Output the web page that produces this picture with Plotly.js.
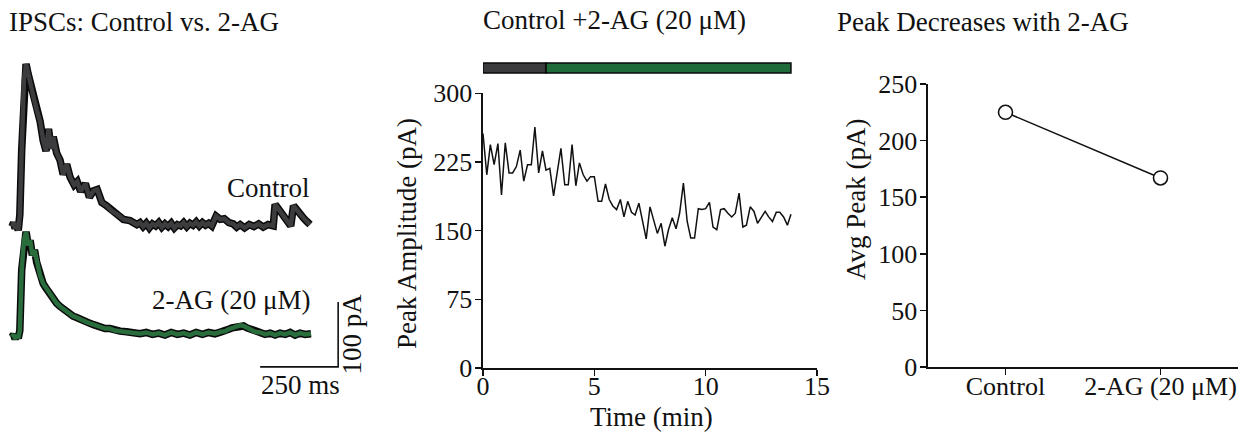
<!DOCTYPE html>
<html>
<head>
<meta charset="utf-8">
<script src="https://cdn.plot.ly/plotly-3.0.1.min.js"></script>
<style>html,body{margin:0;padding:0;background:#fff;}#chart{width:1245px;height:432px;}</style>
</head>
<body>
<div id="chart"></div>
<script>
// ---------- Panel A: example IPSC traces (time in ms, current in pA above baseline) ----------
const ctrlTime = [0,5,10,15,20,25,31,38,45,51,58,64,70,79,90,100,109,117,125,132,143,154,164,175,186,199,209,220,235,248,261,273,288,303,320,336,357,378,400,
  410,420,430,440,450,460,470,480,490,500,510,520,530,540,550,560,570,580,590,600,610,620,630,640,
  654,667,680,695,709,720,731,745,760,775,790,805,820,837,843,851,859,868,880,887,893,902,912,923,934,944,955];
const ctrlCurrent = [0,6,-3,5,-6,18,118,226,250,236,224,206,197,180,162,132,116,150,120,138,113,102,80,96,76,64,69,54,66,45,55,57,37,32,24,19,11,9,3,
  6,0,5,-2,4,1,6,-1,4,0,5,-2,3,1,6,0,5,2,7,1,6,2,5,1,
  16,11,12,6,4,-1,3,-2,3,0,4,-1,3,1,34,29,23,18,10,5,1,32,25,19,13,8,3];
const drugTime = [0,5,10,15,20,25,31,38,45,52,58,65,72,79,90,100,108,116,124,132,143,154,165,175,186,196,207,218,229,239,250,261,272,282,298,314,330,346,367,388,
  410,430,450,470,490,510,530,550,570,590,610,630,650,670,683,694,705,718,731,742,753,766,779,795,811,827,843,859,875,891,907,923,939,958];
const drugCurrent = [0,4,-3,3,-2,10,103,149,162,141,149,126,134,115,95,82,76,70,65,58,52,47,43,38,36,32,30,27,25,23,21,19,17,16,13,13,10,9,8,7,
  5,7,4,6,3,7,4,6,3,7,4,7,5,8,9,12,14,16,18,17,14,11,8,7,4,6,3,6,4,7,3,6,4,5];
const traceLabels = ["Control", "2-AG (20 μM)"];
const ctrlOffset = 170;          // vertical stacking of the control trace (pA)
const scaleBarMs = 250, scaleBarPA = 100;
const scaleBarEndMs = 1045, scaleBarBasePA = -46;

// ---------- Panel B: peak amplitude time course ----------
const timeMin = [0,0.17,0.33,0.5,0.67,0.83,1,1.17,1.33,1.5,1.67,1.83,2,2.17,2.33,2.5,2.67,2.83,3,3.17,3.33,3.5,3.67,3.83,4,4.17,4.33,4.5,4.67,4.83,
  5,5.17,5.33,5.5,5.67,5.83,6,6.17,6.33,6.5,6.67,6.83,7,7.17,7.33,7.5,7.67,7.83,8,8.17,8.33,8.5,8.67,8.83,9,9.17,9.33,9.5,9.67,9.83,
  10,10.17,10.33,10.5,10.67,10.83,11,11.17,11.33,11.5,11.67,11.83,12,12.17,12.33,12.5,12.67,12.83,13,13.17,13.33,13.5,13.67,13.83];
const peakPA = [256,211,244,222,245,189,246,213,213,220,238,204,222,222,263,213,237,216,218,188,213,240,200,200,244,199,224,211,204,209,
  209,182,182,201,184,177,173,184,165,182,170,167,180,158,141,176,162,147,158,133,151,164,152,169,202,160,142,142,174,173,
  174,181,154,151,173,174,169,165,169,191,154,156,176,171,158,165,171,165,160,170,170,165,156,168];
const periodStart = [0, 2.83];
const periodEnd = [2.83, 13.83];
const periodColor = ["#3b3b3d", "#1f6b3a"];
const bTicksX = [0,5,10,15];
const bTicksY = [0,75,150,225,300];

// ---------- Panel C: average peaks ----------
const conditions = ["Control", "2-AG (20 μM)"];
const avgPeak = [225, 167];
const cTicksY = [0,50,100,150,200,250];

// ---------- drawing ----------
const W = 1245, H = 432;
const px = v => v / W;
const py = v => 1 - v / H;
const FONT = "Liberation Serif, Times New Roman, serif";
const INK = "#111111";
const GREY = "#3c3c3e", GREEN = "#2a6d3d";
const FS = 27, TFS = 26;

const traces = [];
function band(x, y, color) {
  traces.push({x: x, y: y, xaxis: "x", yaxis: "y", type: "scatter", mode: "lines",
    line: {color: "#0a0a0a", width: 7.5}, hoverinfo: "skip"});
  traces.push({x: x, y: y, xaxis: "x", yaxis: "y", type: "scatter", mode: "lines",
    line: {color: color, width: 4.5}, hoverinfo: "skip"});
}
band(ctrlTime, ctrlCurrent.map(v => v + ctrlOffset), GREY);
band(drugTime, drugCurrent, GREEN);
// scale bar
traces.push({
  x: [scaleBarEndMs - scaleBarMs, scaleBarEndMs, scaleBarEndMs],
  y: [scaleBarBasePA, scaleBarBasePA, scaleBarBasePA + scaleBarPA],
  xaxis: "x", yaxis: "y", type: "scatter", mode: "lines",
  line: {color: INK, width: 1.6}, hoverinfo: "skip"
});
// panel B line
traces.push({x: timeMin, y: peakPA, xaxis: "x2", yaxis: "y2", type: "scatter", mode: "lines",
  line: {color: INK, width: 1.5}});
// panel C
traces.push({x: conditions, y: avgPeak, xaxis: "x3", yaxis: "y3", type: "scatter", mode: "lines+markers",
  line: {color: INK, width: 1.5},
  marker: {size: 14, color: "#ffffff", line: {color: INK, width: 1.6}}, cliponaxis: false});

const shapes = periodStart.map((s, i) => ({
  type: "rect", xref: "x2", yref: "paper",
  x0: s, x1: periodEnd[i], y0: py(73), y1: py(63),
  fillcolor: periodColor[i], line: {color: "#0a0a0a", width: 1.5}
}));

const axisCommon = {
  showline: true, linecolor: INK, linewidth: 1.6, ticks: "outside", ticklen: 6, tickwidth: 1.6,
  tickcolor: INK, showgrid: false, zeroline: false, tickfont: {family: FONT, size: TFS, color: INK},
  fixedrange: true
};

const ann = [];
function txt(text, x, y, opts) {
  ann.push(Object.assign({text: text, x: x, y: y, xref: "paper", yref: "paper", showarrow: false,
    font: {family: FONT, size: FS, color: INK}, xanchor: "left", yanchor: "middle"}, opts || {}));
}
txt("IPSCs: Control vs. 2-AG", px(7), py(22));
txt("Control +2-AG (20 μM)", px(481), py(20));
txt("Peak Decreases with 2-AG", px(835), py(22));
txt("Peak Amplitude (pA)", px(407), py(234), {xanchor: "center", textangle: -90});
txt("Time (min)", px(651), py(417), {xanchor: "center"});
txt("Avg Peak (pA)", px(856), py(200), {xanchor: "center", textangle: -90});
// trace labels & scale bar labels (data coordinates of panel A)
ann.push({text: traceLabels[0], xref: "x", yref: "y", x: 962, y: ctrlOffset + 59, xanchor: "right", yanchor: "middle",
  showarrow: false, font: {family: FONT, size: FS, color: INK}});
ann.push({text: traceLabels[1], xref: "x", yref: "y", x: 962, y: 57, xanchor: "right", yanchor: "middle",
  showarrow: false, font: {family: FONT, size: FS, color: INK}});
ann.push({text: scaleBarMs + " ms", xref: "x", yref: "y", x: scaleBarEndMs - scaleBarMs / 2 + 5, y: scaleBarBasePA - 28,
  xanchor: "center", yanchor: "middle", showarrow: false, font: {family: FONT, size: FS, color: INK}});
ann.push({text: scaleBarPA + " pA", xref: "x", yref: "y", x: scaleBarEndMs + 45, y: scaleBarBasePA + scaleBarPA / 2,
  xanchor: "center", yanchor: "middle", textangle: -90, showarrow: false, font: {family: FONT, size: FS, color: INK}});

const layout = {
  width: W, height: H, margin: {l: 0, r: 0, t: 0, b: 0, pad: 0},
  paper_bgcolor: "#ffffff", plot_bgcolor: "#ffffff", showlegend: false,
  xaxis: {domain: [0, px(360)], range: [-38.5, 1115], visible: false, fixedrange: true, anchor: "y"},
  yaxis: {domain: [py(400), py(40)], range: [-96.9, 457], visible: false, fixedrange: true, anchor: "x"},
  xaxis2: Object.assign({}, axisCommon, {domain: [px(483), px(817)], range: [0, 15], tickvals: bTicksX, anchor: "y2", ticklabelstandoff: -12}),
  yaxis2: Object.assign({}, axisCommon, {domain: [py(368), py(93.3)], range: [0, 300], tickvals: bTicksY, anchor: "x2", ticklabelstandoff: -2}),
  xaxis3: Object.assign({}, axisCommon, {domain: [px(928), px(1238)], type: "category", range: [-0.5, 1.5], anchor: "y3", ticklabelstandoff: -11}),
  yaxis3: Object.assign({}, axisCommon, {domain: [py(367), py(84)], range: [0, 250], tickvals: cTicksY, anchor: "x3", ticklabelstandoff: -2}),
  shapes: shapes,
  annotations: ann
};
Plotly.newPlot("chart", traces, layout, {displayModeBar: false, staticPlot: true});
</script>
</body>
</html>
